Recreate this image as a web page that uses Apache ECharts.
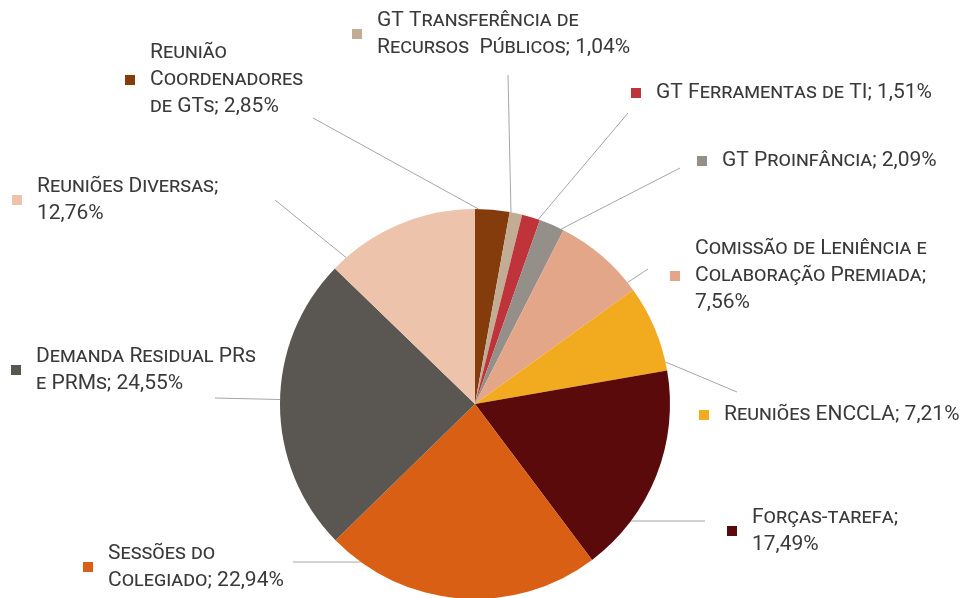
<!DOCTYPE html>
<html>
<head>
<meta charset="utf-8">
<title>Distribuição</title>
<script src="https://cdn.jsdelivr.net/npm/echarts@6/dist/echarts.min.js"></script>
<style>
  html, body { margin: 0; padding: 0; background: #fff; }
  #chart { width: 971px; height: 598px; }
</style>
</head>
<body>
<div id="chart"></div>
<script>
// dados (ordem horária a partir do topo)
const categories = [
  'Reunião Coordenadores de GTs',
  'GT Transferência de Recursos Públicos',
  'GT Ferramentas de TI',
  'GT Proinfância',
  'Comissão de Leniência e Colaboração Premiada',
  'Reuniões ENCCLA',
  'Forças-tarefa',
  'Sessões do Colegiado',
  'Demanda Residual PRs e PRMs',
  'Reuniões Diversas'
]
const shares = [2.85, 1.04, 1.51, 2.09, 7.56, 7.21, 17.49, 22.94, 24.55, 12.76]
// textos quebrados como no original
const labelNames = [
  'Reunião\nCoordenadores\nde GTs; ',
  'GT Transferência de\nRecursos  Públicos; ',
  'GT Ferramentas de TI; ',
  'GT Proinfância; ',
  'Comissão de Leniência e\nColaboração Premiada;\n',
  'Reuniões ENCCLA; ',
  'Forças-tarefa;\n',
  'Sessões do\nColegiado; ',
  'Demanda Residual PRs\ne PRMs; ',
  'Reuniões Diversas;\n'
]
const colors = ['#843C0C', '#C2AC93', '#BE343A', '#948F89', '#E4A689', '#F2AB1F', '#5B0A0B', '#D95F14', '#5A5651', '#EEC3AC']

// posição dos rótulos (x esquerdo do texto, centro vertical do bloco) e fim das linhas-guia
const labelPos = [[150, 80], [377, 34], [656, 93], [722, 161], [695, 276], [724, 415], [752, 531], [108, 567], [36, 370], [37, 200]]
const leaderEnds = [[313, 118], [508, 75], [628, 113], [680, 168], [648, 269], [737, 392], [705, 521], [293, 562], [215, 398], [275, 200]]

const CX = 475
const CY = 404
const R = 195

const total = shares.reduce((a, b) => a + b, 0)
const sliceRange = []
let acc = 0
shares.forEach(v => {
  const a0 = acc / total * 360
  acc += v
  sliceRange.push([a0, acc / total * 360])
})

function fmt(v) {
  return v.toFixed(2).replace('.', ',') + '%'
}

function onArc(ang) {
  const rad = ang * Math.PI / 180
  return [CX + R * Math.sin(rad), CY - R * Math.cos(rad)]
}

// início da linha-guia: horizontal na metade de baixo quando cabe na fatia,
// senão o ponto da fatia mais próximo em ângulo
function leaderStart(i) {
  const end = leaderEnds[i]
  const dx = end[0] - CX
  const dy = end[1] - CY
  const span = sliceRange[i][1] - sliceRange[i][0]
  const lo = sliceRange[i][0] + span * 0.1
  const hi = sliceRange[i][1] - span * 0.1
  if (dy > 0 && dy <= R) {
    const hx = Math.sqrt(R * R - dy * dy) * (dx < 0 ? -1 : 1)
    let h = Math.atan2(hx, -dy) * 180 / Math.PI
    if (h < 0) h += 360
    if (h >= lo && h <= hi) return [CX + hx, end[1]]
  }
  let ang = Math.atan2(dx, -dy) * 180 / Math.PI
  if (ang < 0) ang += 360
  if (ang < lo || ang > hi) {
    const dLo = Math.min(Math.abs(ang - lo), 360 - Math.abs(ang - lo))
    const dHi = Math.min(Math.abs(ang - hi), 360 - Math.abs(ang - hi))
    ang = dLo < dHi ? lo : hi
  }
  return onArc(ang)
}

const chart = echarts.init(document.getElementById('chart'))

chart.setOption({
  animation: false,
  color: colors,
  series: [
    {
      type: 'pie',
      center: [CX, CY],
      radius: R,
      startAngle: 90,
      clockwise: true,
      avoidLabelOverlap: false,
      silent: true,
      itemStyle: { borderWidth: 0 },
      data: categories.map((c, i) => ({ name: c, value: shares[i] })),
      label: {
        show: true,
        position: 'outer',
        formatter: p => labelNames[p.dataIndex] + fmt(p.value),
        color: '#3a3a3a',
        fontFamily: 'Roboto',
        fontStyle: 'small-caps',
        fontWeight: 400,
        fontSize: 21,
        lineHeight: 27
      },
      labelLine: {
        show: true,
        lineStyle: { color: '#a6a6a6', width: 1 }
      },
      labelLayout: p => ({
        x: labelPos[p.dataIndex][0],
        y: labelPos[p.dataIndex][1],
        align: 'left',
        verticalAlign: 'middle',
        labelLinePoints: [leaderStart(p.dataIndex), leaderEnds[p.dataIndex]]
      })
    },
    {
      // marcadores quadrados da legenda
      type: 'pie',
      center: [CX, CY],
      radius: R,
      startAngle: 90,
      clockwise: true,
      avoidLabelOverlap: false,
      silent: true,
      itemStyle: { color: 'rgba(0,0,0,0)', borderWidth: 0 },
      data: categories.map((c, i) => ({
        name: c,
        value: shares[i],
        label: { backgroundColor: colors[i] }
      })),
      label: {
        show: true,
        position: 'outer',
        formatter: ' ',
        width: 10,
        height: 10,
        lineHeight: 10,
        fontSize: 10,
        padding: 0
      },
      labelLine: { show: false },
      labelLayout: p => ({
        x: labelPos[p.dataIndex][0] - 20,
        y: labelPos[p.dataIndex][1],
        align: 'center',
        verticalAlign: 'middle'
      })
    }
  ]
})
</script>
</body>
</html>
